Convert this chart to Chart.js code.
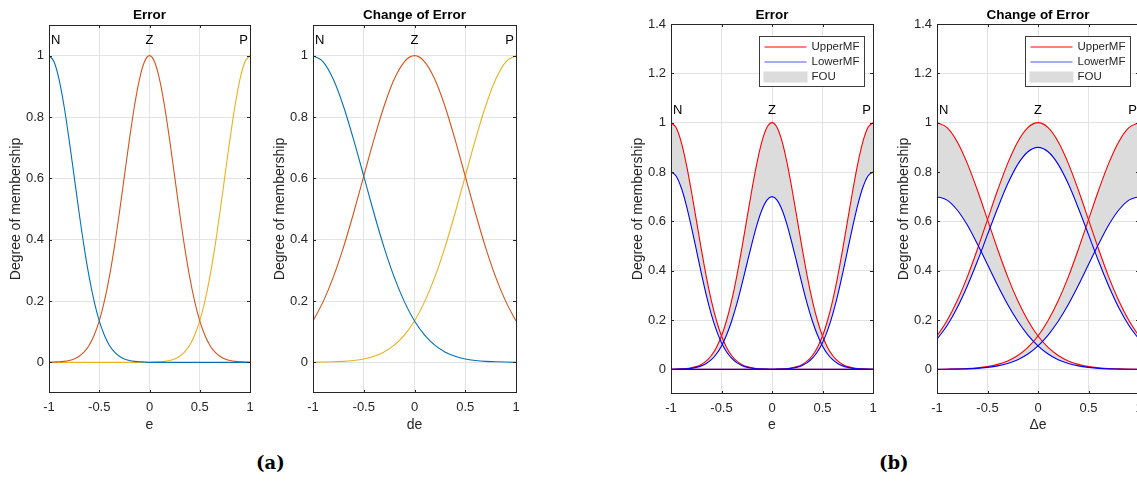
<!DOCTYPE html>
<html>
<head>
<meta charset="utf-8">
<script src="https://cdn.jsdelivr.net/npm/chart.js@4.4.0/dist/chart.umd.min.js"></script>
<style>
  body { margin: 0; width: 1137px; height: 482px; overflow: hidden; background: #fff; position: relative; }
  canvas { position: absolute; top: 0; }
  .tag { position: absolute; top: 452px; font-family: 'DejaVu Serif', serif; font-weight: bold; font-size: 18px; color: #000; }
</style>
</head>
<body>
<canvas id="c1" width="268" height="440" style="left:1px"></canvas>
<canvas id="c2" width="270" height="440" style="left:265px"></canvas>
<canvas id="c3" width="269" height="440" style="left:623px"></canvas>
<canvas id="c4" width="269" height="440" style="left:889px"></canvas>
<div class="tag" style="left:256px">(a)</div>
<div class="tag" style="left:879px">(b)</div>
<script>
// valeurs lues sur la figure
// pas fin pour les MF étroites (Error), pas de 0.1 pour Change of Error
const eFine = [-1, -0.95, -0.9, -0.85, -0.8, -0.75, -0.7, -0.65, -0.6, -0.55, -0.5, -0.45, -0.4, -0.35, -0.3, -0.25, -0.2, -0.15, -0.1, -0.05,
               0, 0.05, 0.1, 0.15, 0.2, 0.25, 0.3, 0.35, 0.4, 0.45, 0.5, 0.55, 0.6, 0.65, 0.7, 0.75, 0.8, 0.85, 0.9, 0.95, 1];
const eVals = [-1, -0.9, -0.8, -0.7, -0.6, -0.5, -0.4, -0.3, -0.2, -0.1, 0, 0.1, 0.2, 0.3, 0.4, 0.5, 0.6, 0.7, 0.8, 0.9, 1];
const xTicks = [-1, -0.5, 0, 0.5, 1];
const yTicksA = [0, 0.2, 0.4, 0.6, 0.8, 1];
const yTicksB = [0, 0.2, 0.4, 0.6, 0.8, 1, 1.2, 1.4];
const mfNames = ['N', 'Z', 'P'];
const mfCenters = [-1, 0, 1];
const legendNames = ['UpperMF', 'LowerMF', 'FOU'];

// Error (upper MF in (b) = same curves)
const errN = [1, 0.980, 0.923, 0.835, 0.726, 0.607, 0.487, 0.375, 0.278, 0.198, 0.135, 0.089, 0.056, 0.034, 0.020, 0.011, 0.006, 0.003, 0.002, 0.001,
              0, 0, 0, 0, 0, 0, 0, 0, 0, 0, 0, 0, 0, 0, 0, 0, 0, 0, 0, 0, 0];
const errZ = [0, 0.001, 0.002, 0.003, 0.006, 0.011, 0.020, 0.034, 0.056, 0.089, 0.135, 0.198, 0.278, 0.375, 0.487, 0.607, 0.726, 0.835, 0.923, 0.980,
              1, 0.980, 0.923, 0.835, 0.726, 0.607, 0.487, 0.375, 0.278, 0.198, 0.135, 0.089, 0.056, 0.034, 0.020, 0.011, 0.006, 0.003, 0.002, 0.001, 0];
const errP = [0, 0, 0, 0, 0, 0, 0, 0, 0, 0, 0, 0, 0, 0, 0, 0, 0, 0, 0, 0,
              0, 0.001, 0.002, 0.003, 0.006, 0.011, 0.020, 0.034, 0.056, 0.089, 0.135, 0.198, 0.278, 0.375, 0.487, 0.607, 0.726, 0.835, 0.923, 0.980, 1];
// Change of Error (upper MF in (b) = same curves)
const dErrN = [1, 0.980, 0.923, 0.835, 0.726, 0.607, 0.487, 0.375, 0.278, 0.198, 0.135, 0.089, 0.056, 0.034, 0.020, 0.011, 0.006, 0.003, 0.002, 0.001, 0];
const dErrZ = [0.135, 0.198, 0.278, 0.375, 0.487, 0.607, 0.726, 0.835, 0.923, 0.980, 1, 0.980, 0.923, 0.835, 0.726, 0.607, 0.487, 0.375, 0.278, 0.198, 0.135];
const dErrP = [0, 0.001, 0.002, 0.003, 0.006, 0.011, 0.020, 0.034, 0.056, 0.089, 0.135, 0.198, 0.278, 0.375, 0.487, 0.607, 0.726, 0.835, 0.923, 0.980, 1];
// (b) Error, lower MFs
const errLowN = [0.8, 0.784, 0.738, 0.668, 0.581, 0.486, 0.390, 0.300, 0.222, 0.158, 0.108, 0.071, 0.045, 0.027, 0.016, 0.009, 0.005, 0.002, 0.001, 0.001,
                 0, 0, 0, 0, 0, 0, 0, 0, 0, 0, 0, 0, 0, 0, 0, 0, 0, 0, 0, 0, 0];
const errLowZ = [0, 0.0005, 0.001, 0.002, 0.004, 0.008, 0.014, 0.024, 0.039, 0.062, 0.095, 0.139, 0.195, 0.263, 0.341, 0.425, 0.508, 0.585, 0.646, 0.686,
                 0.7, 0.686, 0.646, 0.585, 0.508, 0.425, 0.341, 0.263, 0.195, 0.139, 0.095, 0.062, 0.039, 0.024, 0.014, 0.008, 0.004, 0.002, 0.001, 0.0005, 0];
const errLowP = [0, 0, 0, 0, 0, 0, 0, 0, 0, 0, 0, 0, 0, 0, 0, 0, 0, 0, 0, 0,
                 0, 0.001, 0.001, 0.002, 0.005, 0.009, 0.016, 0.027, 0.045, 0.071, 0.108, 0.158, 0.222, 0.300, 0.390, 0.486, 0.581, 0.668, 0.738, 0.784, 0.8];
// (b) Change of Error, lower MFs
const dErrLowN = [0.7, 0.686, 0.646, 0.585, 0.508, 0.425, 0.341, 0.263, 0.195, 0.139, 0.095, 0.062, 0.039, 0.024, 0.014, 0.008, 0.004, 0.002, 0.001, 0.0005, 0];
const dErrLowZ = [0.122, 0.178, 0.250, 0.338, 0.438, 0.546, 0.653, 0.752, 0.831, 0.882, 0.9, 0.882, 0.831, 0.752, 0.653, 0.546, 0.438, 0.338, 0.250, 0.178, 0.122];
const dErrLowP = [0, 0.0005, 0.001, 0.002, 0.004, 0.008, 0.014, 0.024, 0.039, 0.062, 0.095, 0.139, 0.195, 0.263, 0.341, 0.425, 0.508, 0.585, 0.646, 0.686, 0.7];

const FONT = '"Liberation Sans", Arial, sans-serif';
const C_BLUE = '#0072BD', C_ORANGE = '#D95319', C_YELLOW = '#EDB120';
const C_RED = '#ff0000', C_LOW = '#0000ff', C_FOU = '#dcdcdc';
const AXIS = '#262626';
Chart.defaults.font.family = FONT;

function line(xs, vals, color, extra) {
    return Object.assign({
        data: xs.map((x, i) => ({ x: x, y: vals[i] })),
        borderColor: color,
        borderWidth: 1.1,
        pointRadius: 0,
        cubicInterpolationMode: 'monotone',
        fill: false
    }, extra || {});
}

function fmt(v) {
    return String(Number(v.toFixed(1)));
}

// titre, lettres N/Z/P, cadre, graduations internes, légende
const decor = {
    id: 'decor',
    afterDraw(chart, args, opts) {
        const { ctx, chartArea: a, scales: { x, y } } = chart;
        ctx.save();
        ctx.fillStyle = '#000';
        ctx.textBaseline = 'middle';
        ctx.textAlign = 'center';
        ctx.font = 'bold 13.5px ' + FONT;
        ctx.fillText(opts.title, (a.left + a.right) / 2, 15);

        ctx.font = '13px ' + FONT;
        const ly = y.getPixelForValue(1.05);
        mfNames.forEach((n, i) => {
            const px = x.getPixelForValue(mfCenters[i]);
            if (i === 0) { ctx.textAlign = 'left'; ctx.fillText(n, px + 2, ly); }
            else if (i === 2) { ctx.textAlign = 'right'; ctx.fillText(n, px - 2, ly); }
            else { ctx.textAlign = 'center'; ctx.fillText(n, px, ly); }
        });

        // cadre
        ctx.strokeStyle = AXIS;
        ctx.lineWidth = 1;
        ctx.strokeRect(a.left + 0.5, a.top + 0.5, a.width, a.height - 1);
        ctx.beginPath();
        x.ticks.forEach(t => {
            const px = Math.round(x.getPixelForValue(t.value)) + 0.5;
            ctx.moveTo(px, a.bottom); ctx.lineTo(px, a.bottom - 3);
            ctx.moveTo(px, a.top); ctx.lineTo(px, a.top + 3);
        });
        y.ticks.forEach(t => {
            const py = Math.round(y.getPixelForValue(t.value)) + 0.5;
            ctx.moveTo(a.left, py); ctx.lineTo(a.left + 3, py);
            ctx.moveTo(a.right, py); ctx.lineTo(a.right - 3, py);
        });
        ctx.stroke();

        if (opts.legend) {
            const bx = Math.round(a.right) - 113.5, by = Math.round(a.top) + 12.5;
            ctx.fillStyle = '#fff';
            ctx.fillRect(bx, by, 105, 50);
            ctx.strokeStyle = '#3c3c3c';
            ctx.strokeRect(bx, by, 105, 50);
            const rows = [by + 10.5, by + 25.5, by + 40.5];
            ctx.lineWidth = 1.2;
            ctx.strokeStyle = C_RED;
            ctx.beginPath(); ctx.moveTo(bx + 5, rows[0]); ctx.lineTo(bx + 47, rows[0]); ctx.stroke();
            ctx.strokeStyle = '#5050ff';
            ctx.beginPath(); ctx.moveTo(bx + 5, rows[1]); ctx.lineTo(bx + 47, rows[1]); ctx.stroke();
            ctx.fillStyle = C_FOU;
            ctx.fillRect(bx + 4, rows[2] - 5.5, 44, 11);
            ctx.fillStyle = AXIS;
            ctx.font = '11.5px ' + FONT;
            ctx.textAlign = 'left';
            legendNames.forEach((n, i) => ctx.fillText(n, bx + 52, rows[i]));
        }
        ctx.restore();
    }
};

function makeChart(id, o) {
    const ctx = document.getElementById(id).getContext('2d');
    return new Chart(ctx, {
        type: 'line',
        data: { datasets: o.datasets },
        options: {
            responsive: false,
            animation: false,
            devicePixelRatio: 1,
            layout: { padding: { top: o.top, right: 19, left: 0, bottom: 0 } },
            plugins: {
                legend: { display: false },
                tooltip: { enabled: false },
                filler: { propagate: false, drawTime: 'beforeDatasetsDraw' },
                decor: { title: o.title, legend: o.legend }
            },
            scales: {
                x: {
                    type: 'linear',
                    min: -1, max: 1,
                    afterBuildTicks: s => { s.ticks = xTicks.map(v => ({ value: v })); },
                    afterFit: s => { s.height = 440 - o.bottom; },
                    ticks: { color: AXIS, font: { size: 13 }, padding: 7, maxRotation: 0, callback: fmt },
                    grid: { color: '#e3e3e3', drawTicks: false },
                    border: { display: false },
                    title: { display: true, text: o.xTitle, color: AXIS, font: { size: 14 }, padding: { top: 0, bottom: 6.6 } }
                },
                y: {
                    min: -0.1, max: o.yMax,
                    afterBuildTicks: s => { s.ticks = o.yTicks.map(v => ({ value: v })); },
                    afterFit: s => { s.width = 48; },
                    ticks: { color: AXIS, font: { size: 13 }, padding: 5, callback: fmt },
                    grid: { color: '#e3e3e3', drawTicks: false },
                    border: { display: false },
                    title: { display: true, text: 'Degree of membership', color: AXIS, font: { size: 14 }, padding: { top: 6.5, bottom: 0 } }
                }
            }
        },
        plugins: [decor]
    });
}

makeChart('c1', {
    title: 'Error', xTitle: 'e', top: 25, bottom: 393, yMax: 1.1, yTicks: yTicksA, legend: false,
    datasets: [line(eFine, errN, C_BLUE), line(eFine, errZ, C_ORANGE), line(eFine, errP, C_YELLOW)]
});
makeChart('c2', {
    title: 'Change of Error', xTitle: 'de', top: 25, bottom: 393, yMax: 1.1, yTicks: yTicksA, legend: false,
    datasets: [line(eVals, dErrN, C_BLUE), line(eVals, dErrZ, C_ORANGE), line(eVals, dErrP, C_YELLOW)]
});
makeChart('c3', {
    title: 'Error', xTitle: 'e', top: 24, bottom: 394, yMax: 1.4, yTicks: yTicksB, legend: true,
    datasets: [
        line(eFine, errN, C_RED, { fill: 3, backgroundColor: C_FOU, order: 1 }),
        line(eFine, errZ, C_RED, { fill: 4, backgroundColor: C_FOU, order: 1 }),
        line(eFine, errP, C_RED, { fill: 5, backgroundColor: C_FOU, order: 1 }),
        line(eFine, errLowN, C_LOW, { order: 0 }),
        line(eFine, errLowZ, C_LOW, { order: 0 }),
        line(eFine, errLowP, C_LOW, { order: 0 })
    ]
});
makeChart('c4', {
    title: 'Change of Error', xTitle: 'Δe', top: 24, bottom: 394, yMax: 1.4, yTicks: yTicksB, legend: true,
    datasets: [
        line(eVals, dErrN, C_RED, { fill: 3, backgroundColor: C_FOU, order: 1 }),
        line(eVals, dErrZ, C_RED, { fill: 4, backgroundColor: C_FOU, order: 1 }),
        line(eVals, dErrP, C_RED, { fill: 5, backgroundColor: C_FOU, order: 1 }),
        line(eVals, dErrLowN, C_LOW, { order: 0 }),
        line(eVals, dErrLowZ, C_LOW, { order: 0 }),
        line(eVals, dErrLowP, C_LOW, { order: 0 })
    ]
});
</script>
</body>
</html>
